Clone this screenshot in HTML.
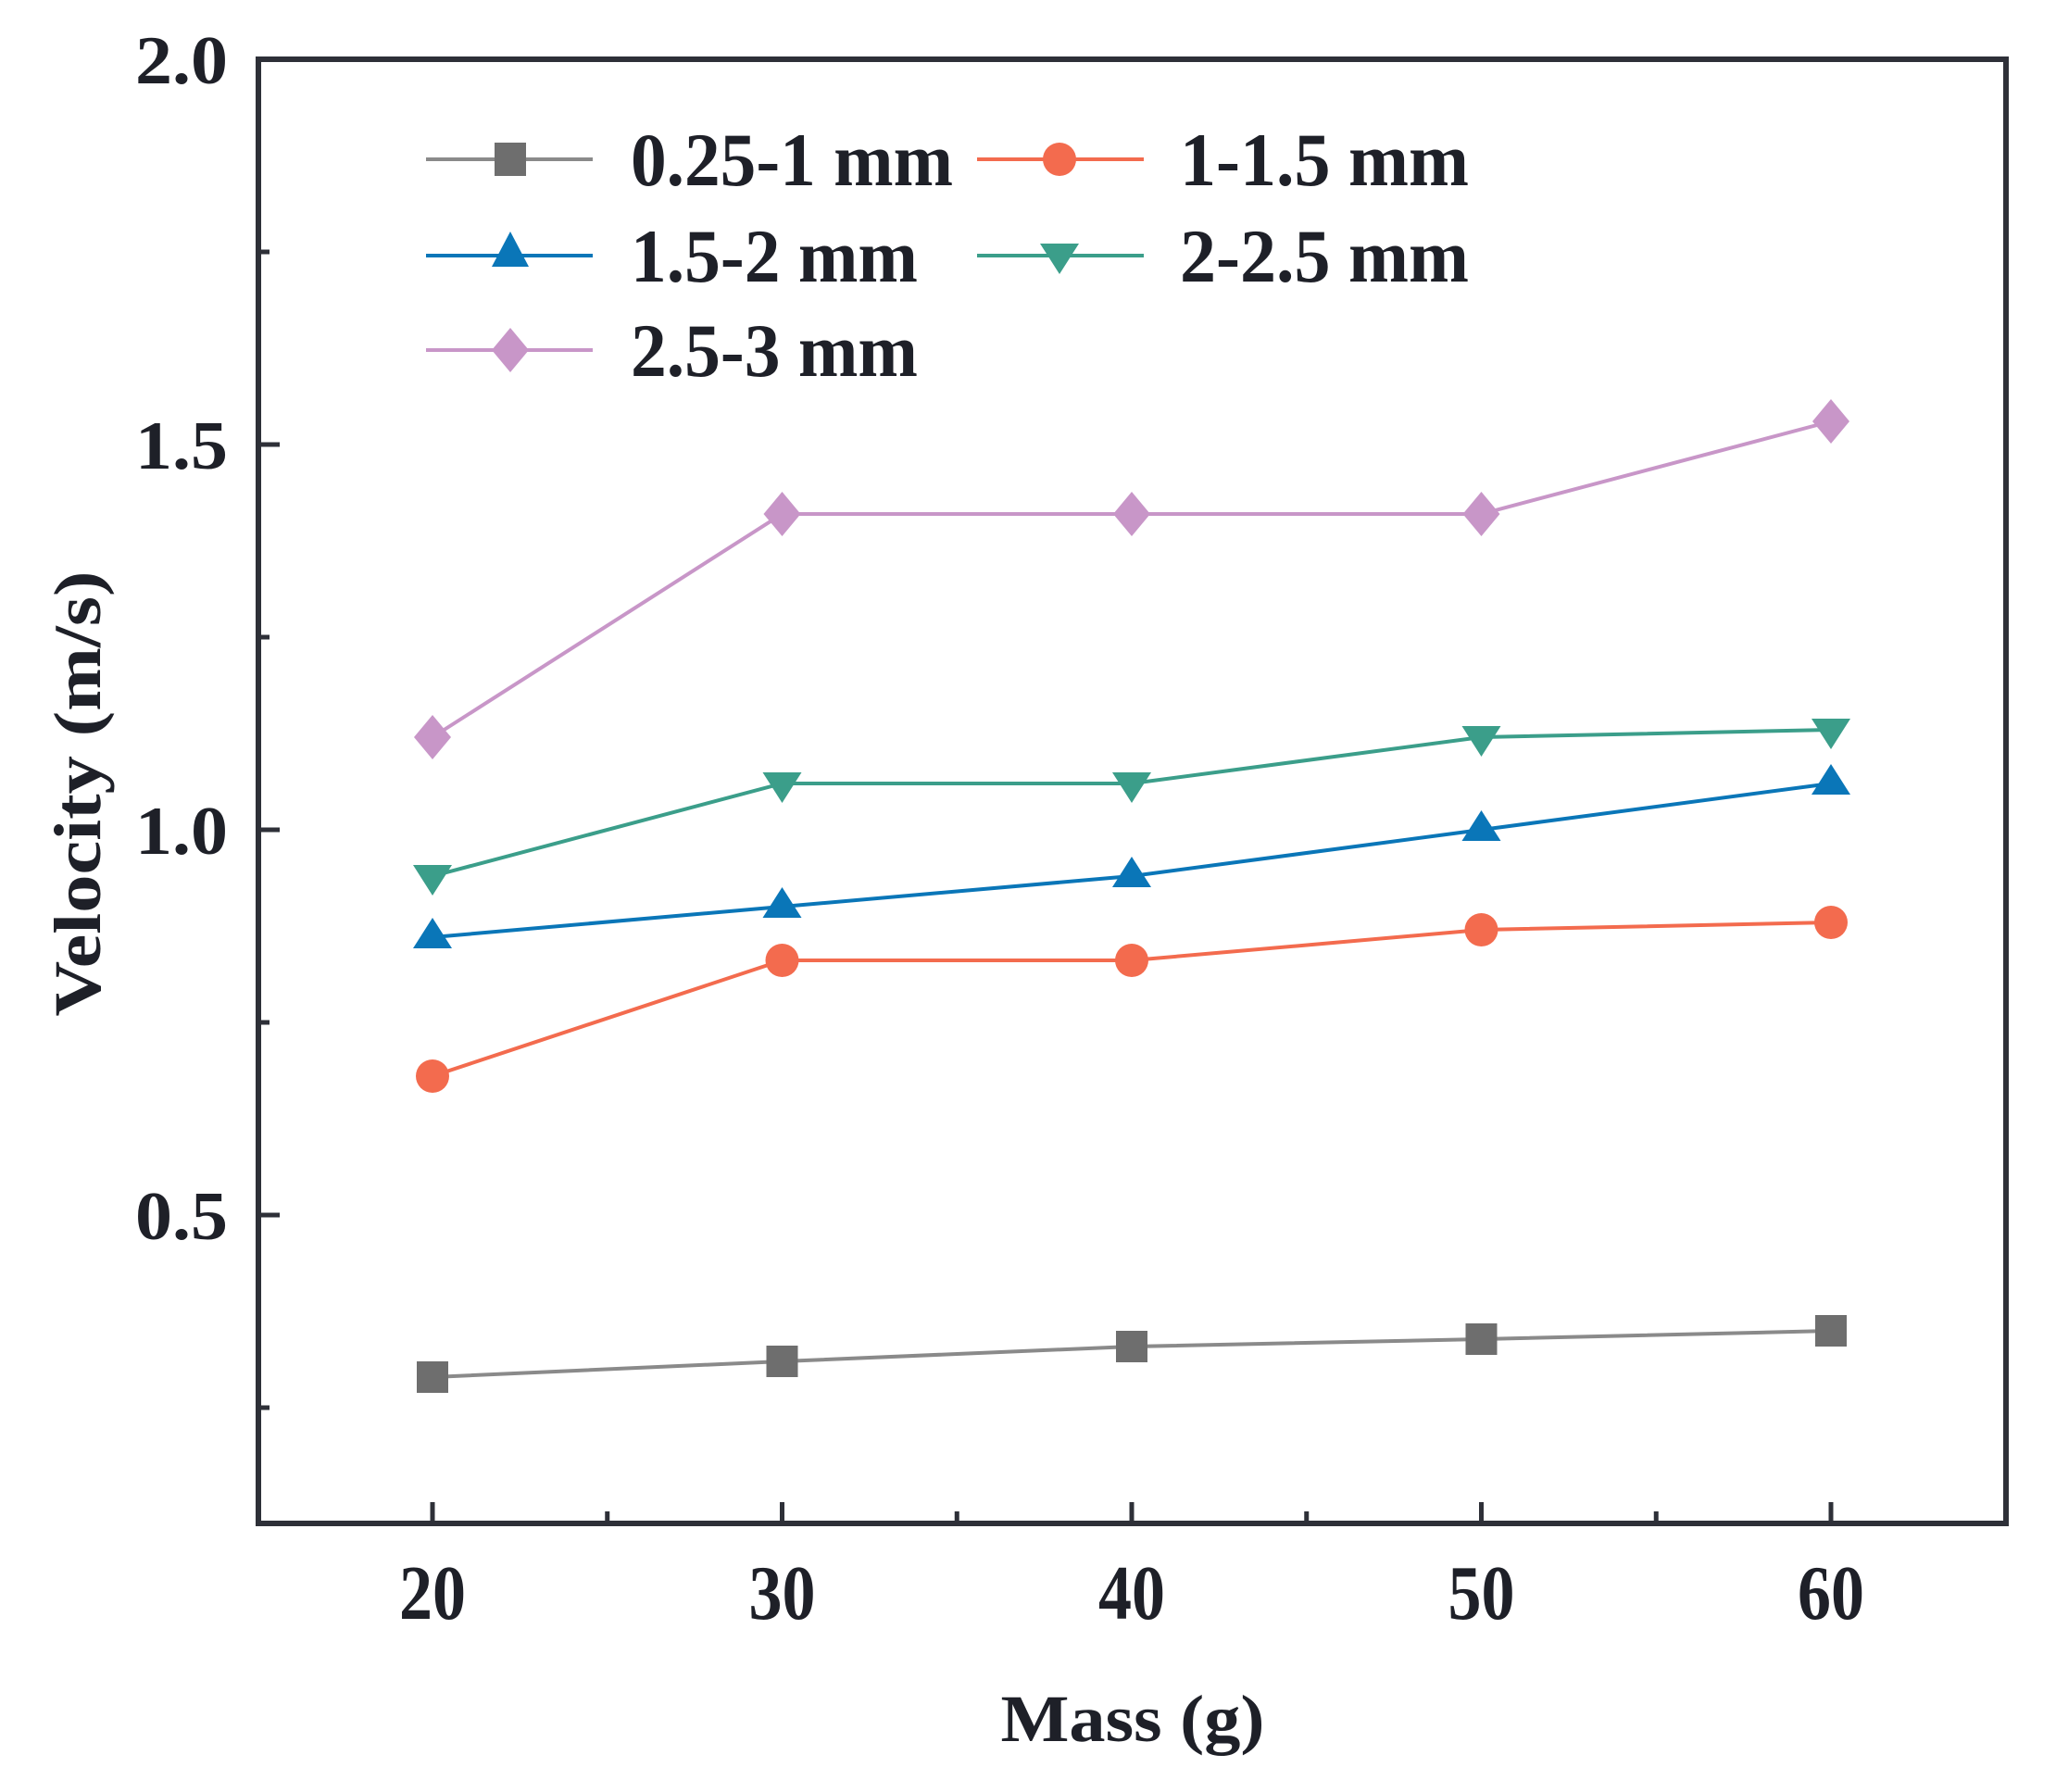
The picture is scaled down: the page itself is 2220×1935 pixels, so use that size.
<!DOCTYPE html>
<html><head><meta charset="utf-8"><style>html,body{margin:0;padding:0;background:#fff}svg{display:block}</style></head>
<body>
<svg width="2220" height="1935" viewBox="0 0 2220 1935" xmlns="http://www.w3.org/2000/svg" font-family="Liberation Serif, serif" font-weight="bold">
<rect width="2220" height="1935" fill="#fff"/>
<rect x="279" y="64" width="1887" height="1581" fill="none" stroke="#2e3038" stroke-width="6"/>
<g stroke="#2e3038" stroke-width="5">
<line x1="467" y1="1645" x2="467" y2="1622"/><line x1="844.5" y1="1645" x2="844.5" y2="1622"/><line x1="1222" y1="1645" x2="1222" y2="1622"/><line x1="1599.5" y1="1645" x2="1599.5" y2="1622"/><line x1="1977" y1="1645" x2="1977" y2="1622"/>
<line x1="655.75" y1="1645" x2="655.75" y2="1632"/><line x1="1033.25" y1="1645" x2="1033.25" y2="1632"/><line x1="1410.75" y1="1645" x2="1410.75" y2="1632"/><line x1="1788.25" y1="1645" x2="1788.25" y2="1632"/>
<line x1="279" y1="64" x2="302" y2="64"/><line x1="279" y1="480" x2="302" y2="480"/><line x1="279" y1="896" x2="302" y2="896"/><line x1="279" y1="1312" x2="302" y2="1312"/>
<line x1="279" y1="272" x2="291" y2="272"/><line x1="279" y1="688" x2="291" y2="688"/><line x1="279" y1="1104" x2="291" y2="1104"/><line x1="279" y1="1520" x2="291" y2="1520"/>
</g>
<g font-size="74" fill="#1e2028" text-anchor="end">
<text x="246" y="90" textLength="100" lengthAdjust="spacingAndGlyphs">2.0</text>
<text x="246" y="506" textLength="100" lengthAdjust="spacingAndGlyphs">1.5</text>
<text x="246" y="922" textLength="100" lengthAdjust="spacingAndGlyphs">1.0</text>
<text x="246" y="1338" textLength="100" lengthAdjust="spacingAndGlyphs">0.5</text>
</g>
<g font-size="84" fill="#1e2028" text-anchor="middle">
<text x="467" y="1748" textLength="72" lengthAdjust="spacingAndGlyphs">20</text><text x="844.5" y="1748" textLength="72" lengthAdjust="spacingAndGlyphs">30</text><text x="1222" y="1748" textLength="72" lengthAdjust="spacingAndGlyphs">40</text><text x="1599.5" y="1748" textLength="72" lengthAdjust="spacingAndGlyphs">50</text><text x="1977" y="1748" textLength="72" lengthAdjust="spacingAndGlyphs">60</text>
</g>
<g font-size="72" fill="#1e2028" text-anchor="middle">
<text x="1223" y="1880" textLength="285" lengthAdjust="spacingAndGlyphs">Mass (g)</text>
<text transform="translate(108,857) rotate(-90)" x="0" y="0" textLength="481" lengthAdjust="spacingAndGlyphs">Velocity (m/s)</text>
</g>
<g fill="none" stroke-width="4">
<polyline stroke="#8a8a8a" points="467,1487 844.5,1470 1222,1454 1599.5,1446 1977,1437"/>
<polyline stroke="#f36b4e" points="467,1162 844.5,1037 1222,1037 1599.5,1004 1977,996"/>
<polyline stroke="#0a76b8" points="467,1012 844.5,979 1222,946 1599.5,896 1977,846"/>
<polyline stroke="#3b9e8a" points="467,946 844.5,846 1222,846 1599.5,796 1977,788"/>
<polyline stroke="#c896c8" points="467,796 844.5,555 1222,555 1599.5,555 1977,455"/>
</g>
<g fill="#6e6e6e">
<rect x="450" y="1470" width="34" height="34"/><rect x="827.5" y="1453" width="34" height="34"/><rect x="1205" y="1437" width="34" height="34"/><rect x="1582.5" y="1429" width="34" height="34"/><rect x="1960" y="1420" width="34" height="34"/>
</g>
<g fill="#f36b4e">
<circle cx="467" cy="1162" r="18"/><circle cx="844.5" cy="1037" r="18"/><circle cx="1222" cy="1037" r="18"/><circle cx="1599.5" cy="1004" r="18"/><circle cx="1977" cy="996" r="18"/>
</g>
<g fill="#0a76b8">
<path d="M467,991 l21,33 h-42z"/><path d="M844.5,958 l21,33 h-42z"/><path d="M1222,925 l21,33 h-42z"/><path d="M1599.5,875 l21,33 h-42z"/><path d="M1977,825 l21,33 h-42z"/>
</g>
<g fill="#3b9e8a">
<path d="M467,967 l21,-33 h-42z"/><path d="M844.5,867 l21,-33 h-42z"/><path d="M1222,867 l21,-33 h-42z"/><path d="M1599.5,817 l21,-33 h-42z"/><path d="M1977,809 l21,-33 h-42z"/>
</g>
<g fill="#c896c8">
<path d="M467,772 l20,24 l-20,24 l-20,-24z"/><path d="M844.5,531 l20,24 l-20,24 l-20,-24z"/><path d="M1222,531 l20,24 l-20,24 l-20,-24z"/><path d="M1599.5,531 l20,24 l-20,24 l-20,-24z"/><path d="M1977,431 l20,24 l-20,24 l-20,-24z"/>
</g>
<g stroke-width="4">
<line x1="460" y1="172" x2="640" y2="172" stroke="#8a8a8a"/>
<line x1="1055" y1="172" x2="1235" y2="172" stroke="#f36b4e"/>
<line x1="460" y1="276" x2="640" y2="276" stroke="#0a76b8"/>
<line x1="1055" y1="276" x2="1235" y2="276" stroke="#3b9e8a"/>
<line x1="460" y1="378" x2="640" y2="378" stroke="#c896c8"/>
</g>
<rect x="534" y="154" width="34" height="36" fill="#6e6e6e"/>
<circle cx="1144" cy="172" r="18" fill="#f36b4e"/>
<path d="M551,250 l20,38 h-40z" fill="#0a76b8"/>
<path d="M1144,296 l21,-33 h-42z" fill="#3b9e8a"/>
<path d="M551,354 l20,24 l-20,24 l-20,-24z" fill="#c896c8"/>
<g font-size="82" fill="#1e2028">
<text x="681" y="200" textLength="348" lengthAdjust="spacingAndGlyphs">0.25-1 mm</text>
<text x="1274" y="200" textLength="312" lengthAdjust="spacingAndGlyphs">1-1.5 mm</text>
<text x="681" y="304" textLength="310" lengthAdjust="spacingAndGlyphs">1.5-2 mm</text>
<text x="1274" y="304" textLength="312" lengthAdjust="spacingAndGlyphs">2-2.5 mm</text>
<text x="681" y="406" textLength="310" lengthAdjust="spacingAndGlyphs">2.5-3 mm</text>
</g>
</svg>
</body></html>
